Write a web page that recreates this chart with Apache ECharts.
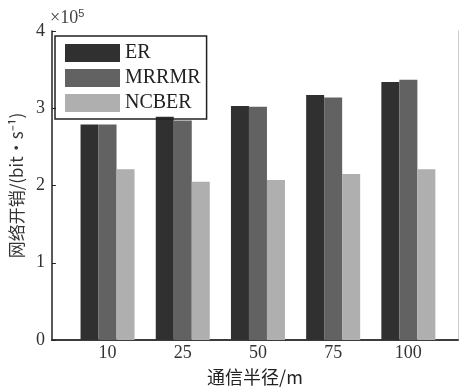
<!DOCTYPE html>
<html>
<head>
<meta charset="utf-8">
<script src="https://cdn.jsdelivr.net/npm/echarts@6/dist/echarts.min.js"></script>
<style>
  html, body { margin: 0; padding: 0; background: #fff; }
  #main { width: 462px; height: 391px; }
</style>
</head>
<body>
<div id="main"></div>
<script>
// 通信半径 categories and network overhead (×10^5 bit/s)
var categories = ["10", "25", "50", "75", "100"];
var erData = [2.79, 2.89, 3.03, 3.17, 3.34];
var mrrmrData = [2.79, 2.84, 3.02, 3.14, 3.37];
var ncberData = [2.21, 2.05, 2.07, 2.15, 2.21];
var yTicks = [0, 1, 2, 3, 4];

var serif = '"Liberation Serif", "Noto Sans CJK SC", serif';
var cjk = '"Noto Sans CJK SC", "Liberation Serif", sans-serif';

// bars sit on a value x axis: position i+1 for category i
function toPoints(arr) {
  return arr.map(function (v, i) {
    return [i + 1, v];
  });
}
var positions = categories.map(function (c, i) {
  return i + 1;
});

function barSeries(name, data, color) {
  return {
    name: name,
    type: "bar",
    barWidth: 18,
    barGap: "0%",
    itemStyle: { color: color },
    emphasis: { disabled: true },
    data: toPoints(data),
  };
}

var option = {
  animation: false,
  backgroundColor: "#fff",
  textStyle: { fontFamily: serif },
  grid: { left: 50, right: 4, top: 31, bottom: 46 },
  legend: {
    orient: "vertical",
    left: 55,
    top: 36,
    itemWidth: 55,
    itemHeight: 18,
    itemGap: 5,
    padding: [7, 6, 6, 10],
    borderColor: "#222",
    borderWidth: 1.5,
    icon: "rect",
    textStyle: { fontFamily: serif, fontSize: 20, color: "#222" },
    data: ["ER", "MRRMR", "NCBER"],
  },
  graphic: [
    {
      type: "text",
      left: 50,
      top: 8,
      style: {
        text: "×10{s|5}",
        font: "18px " + serif,
        fill: "#444",
        rich: { s: { fontSize: 11, verticalAlign: "top", padding: [0, 0, 9, 0] } },
      },
    },
  ],
  xAxis: [
    {
      type: "value",
      min: 0.26,
      max: 5.66,
      name: "通信半径/m",
      nameLocation: "middle",
      nameGap: 28,
      nameTextStyle: { fontFamily: cjk, fontSize: 18, color: "#222" },
      axisLine: { lineStyle: { color: "#222", width: 1.5 } },
      axisTick: { show: false },
      splitLine: { show: false },
      axisLabel: {
        customValues: positions,
        margin: 4,
        fontSize: 18,
        color: "#333",
        formatter: function (v) {
          return categories[Math.round(v) - 1];
        },
      },
    },
    {
      type: "value",
      position: "top",
      min: 0,
      max: 1,
      axisLine: { show: true, lineStyle: { color: "#333", width: 1.5 } },
      axisTick: { show: false },
      axisLabel: { show: false },
      splitLine: { show: false },
    },
  ],
  yAxis: [
    {
      type: "value",
      min: 0,
      max: 4,
      interval: 1,
      name: "网络开销/(bit·s⁻¹)",
      nameLocation: "middle",
      nameRotate: 90,
      nameGap: 23,
      nameTextStyle: { fontFamily: cjk, fontSize: 17, color: "#333" },
      axisLine: { show: true, lineStyle: { color: "#222", width: 1.5 } },
      axisTick: { show: true, inside: true, length: 4, lineStyle: { color: "#222" } },
      splitLine: { show: false },
      axisLabel: {
        margin: 7,
        fontSize: 18,
        color: "#333",
        formatter: function (v) {
          return yTicks.indexOf(v) >= 0 ? String(v) : "";
        },
      },
    },
    {
      type: "value",
      position: "right",
      min: 0,
      max: 4,
      axisLine: { show: true, lineStyle: { color: "#ccc", width: 1 } },
      axisTick: { show: false },
      axisLabel: { show: false },
      splitLine: { show: false },
    },
  ],
  series: [
    barSeries("ER", erData, "#303030"),
    barSeries("MRRMR", mrrmrData, "#626262"),
    barSeries("NCBER", ncberData, "#afafaf"),
  ],
};

var myChart = echarts.init(document.getElementById("main"));
myChart.setOption(option);
</script>
</body>
</html>
